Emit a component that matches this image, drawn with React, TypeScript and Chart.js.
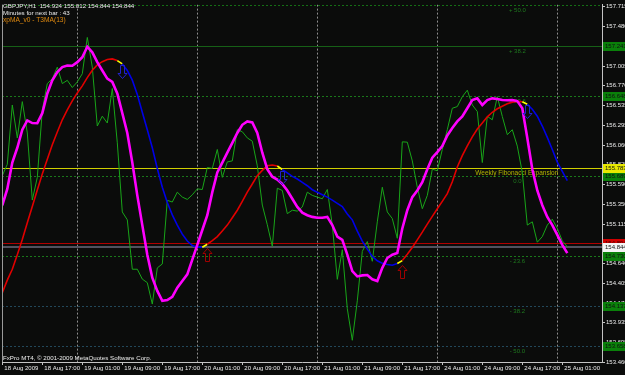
import React, { useEffect, useRef } from "react";
import { Chart, registerables } from "chart.js";

Chart.register(...registerables);

// ---------- texts ----------
const symbolHeader = "GBPJPY,H1  154.924 155.012 154.844 154.844";
const minutesText = "Minutes for next bar : 43";
const indicatorName = "xpMA_v0 - T3MA(13)";
const copyrightText = "FxPro MT4, \u00a9 2001-2009 MetaQuotes Software Corp.";

// ---------- time categories (H1 bars) ----------
const tradingDays = ["18 Aug", "19 Aug", "20 Aug", "21 Aug", "24 Aug", "25 Aug"];
const firstBarHour = 9;
const barCount = 114;
const firstTickLabel = "18 Aug 2009";
const tickEvery = 8;
const slotCount = 120;

const barTimes: string[] = [];
{
  let d = 0;
  let h = firstBarHour;
  while (barTimes.length < barCount) {
    barTimes.push(`${tradingDays[d]} ${String(h).padStart(2, "0")}:00`);
    h++;
    if (h === 24) {
      h = 0;
      d++;
    }
  }
}

// ---------- price axis ----------
const priceMin = 153.465;
const priceMax = 157.741;
const yTickLabels = [
  "153.460", "153.695", "153.935", "154.170", "154.405", "154.640", "154.875",
  "155.115", "155.350", "155.590", "155.825", "156.060", "156.295", "156.535",
  "156.770", "157.005", "157.240", "157.480", "157.715",
];

// ---------- series ----------
const closePrices = [
  155.694, 155.831, 156.540, 156.146, 156.580, 156.205, 155.402, 155.674, 156.481, 156.796,
  156.855, 156.993, 156.796, 156.835, 156.749, 156.816, 156.914, 157.348, 156.993, 156.288,
  156.406, 156.324, 156.737, 156.087, 155.260, 155.166, 154.575, 154.575, 154.457, 154.414,
  154.158, 154.591, 154.638, 155.399, 155.379, 155.497, 155.438, 155.410, 155.465, 155.536,
  155.529, 155.792, 155.780, 156.008, 155.674, 155.859, 155.871, 156.244, 156.220, 156.146,
  156.107, 155.812, 155.343, 155.107, 154.847, 155.544, 155.517, 155.240, 155.281, 155.270,
  155.320, 155.497, 155.458, 155.438, 155.418, 155.529, 155.103, 154.454, 154.808, 154.103,
  153.725, 154.197, 154.788, 154.906, 154.670, 155.142, 155.556, 155.260, 155.181, 154.945,
  156.099, 156.095, 155.871, 155.556, 155.299, 155.458, 155.772, 155.753, 156.008, 156.244,
  156.501, 156.521, 156.639, 156.717, 156.540, 156.462, 155.851, 156.403, 156.363, 156.639,
  156.403, 156.185, 156.244, 156.048, 155.733, 155.103, 155.142, 154.898, 154.965, 155.103,
  155.174, 155.063, 154.914, 154.844,
];

const t3ma = [
  155.340, 155.536, 155.851, 156.028, 156.244, 156.355, 156.324, 156.322, 156.442, 156.678,
  156.835, 156.934, 156.993, 157.012, 157.010, 157.052, 157.111, 157.237, 157.170, 157.052,
  156.953, 156.855, 156.816, 156.678, 156.442, 156.205, 155.851, 155.458, 155.103, 154.749,
  154.473, 154.316, 154.197, 154.206, 154.245, 154.355, 154.434, 154.513, 154.690, 154.867,
  155.044, 155.221, 155.497, 155.733, 155.851, 155.969, 156.087, 156.205, 156.303, 156.344,
  156.332, 156.205, 155.969, 155.772, 155.682, 155.647, 155.595, 155.517, 155.418, 155.320,
  155.252, 155.221, 155.201, 155.190, 155.190, 155.201, 155.103, 154.965, 154.926, 154.749,
  154.552, 154.489, 154.501, 154.505, 154.454, 154.434, 154.591, 154.709, 154.749, 154.768,
  155.063, 155.281, 155.438, 155.517, 155.615, 155.772, 155.910, 155.977, 156.048, 156.176,
  156.264, 156.344, 156.403, 156.501, 156.599, 156.619, 156.540, 156.599, 156.619, 156.611,
  156.599, 156.597, 156.599, 156.587, 156.501, 156.146, 155.772, 155.517, 155.340, 155.201,
  155.103, 154.985, 154.867, 154.768,
];

const xpma = [
  154.295, 154.445, 154.575, 154.749, 154.930, 155.131, 155.325, 155.524, 155.715, 155.890,
  156.064, 156.217, 156.363, 156.481, 156.589, 156.684, 156.769, 156.867, 156.956, 157.020,
  157.058, 157.085, 157.091, 157.071, 157.032, 156.953, 156.837, 156.666, 156.453, 156.244,
  156.028, 155.780, 155.556, 155.373, 155.225, 155.103, 154.995, 154.912, 154.859, 154.839,
  154.838, 154.874, 154.918, 154.965, 155.033, 155.103, 155.190, 155.281, 155.387, 155.497,
  155.595, 155.694, 155.757, 155.812, 155.822, 155.810, 155.768, 155.727, 155.686, 155.654,
  155.615, 155.574, 155.526, 155.497, 155.467, 155.438, 155.402, 155.363, 155.325, 155.237,
  155.166, 155.030, 154.912, 154.815, 154.729, 154.676, 154.646, 154.631, 154.623, 154.643,
  154.678, 154.753, 154.835, 154.926, 155.018, 155.115, 155.207, 155.299, 155.387, 155.479,
  155.621, 155.798, 155.934, 156.052, 156.158, 156.253, 156.324, 156.398, 156.453, 156.495,
  156.524, 156.554, 156.574, 156.583, 156.578, 156.548, 156.489, 156.406, 156.288, 156.152,
  156.008, 155.857, 155.745, 155.635,
];
const xpmaTurnBars = [23, 40, 55, 79, 104];
const upArrowBars = [41, 80];
const downArrowBars = [24, 56, 105];

// ---------- objects ----------
const fibPrices = [157.737, 157.241, 156.648, 155.689, 154.730, 154.137, 153.658];
const fibTexts = ["+ 50.0", "+ 38.2", "+ 23.6", "0.0", "- 23.6", "- 38.2", "- 50.0"];
const fibLabelBar = 103;
const expansionPrice = 155.783;
const expansionText = "Weekly Fibonacci Expansion";
const expansionTextEndBar = 111;
const askPrice = 154.894;
const bidPrice = 154.844;

// ---------- styles ----------
const BG = "#0b0c0b";
const AXIS = "#c4c4c4";
const TEXT = "#ececec";
const FONT = "'Liberation Sans', Arial, sans-serif";
const fibLineColor = ["#146e14", "#166016", "#1a781a", "#1a781a", "#1a781a", "#22485a", "#22485a"];
const fibLineDash = [[2, 2], [], [2, 2], [2, 2], [2, 2], [2, 2], [2, 2]];

function drawArrow(ctx: CanvasRenderingContext2D, x: number, yTop: number, up: boolean, color: string) {
  const w = 9, h = 13, headH = 5, sw = 4;
  const cx = Math.round(x) + 0.5;
  const t = Math.round(yTop) + 0.5;
  ctx.save();
  ctx.strokeStyle = color;
  ctx.lineWidth = 1;
  ctx.beginPath();
  if (up) {
    ctx.moveTo(cx, t);
    ctx.lineTo(cx + w / 2, t + headH);
    ctx.lineTo(cx + sw / 2, t + headH);
    ctx.lineTo(cx + sw / 2, t + h);
    ctx.lineTo(cx - sw / 2, t + h);
    ctx.lineTo(cx - sw / 2, t + headH);
    ctx.lineTo(cx - w / 2, t + headH);
  } else {
    const b = t + h;
    ctx.moveTo(cx, b);
    ctx.lineTo(cx + w / 2, b - headH);
    ctx.lineTo(cx + sw / 2, b - headH);
    ctx.lineTo(cx + sw / 2, t);
    ctx.lineTo(cx - sw / 2, t);
    ctx.lineTo(cx - sw / 2, b - headH);
    ctx.lineTo(cx - w / 2, b - headH);
  }
  ctx.closePath();
  ctx.stroke();
  ctx.restore();
}

const mt4Plugin = {
  id: "mt4",
  beforeDraw(chart: any) {
    const { ctx, width, height } = chart;
    ctx.save();
    ctx.fillStyle = BG;
    ctx.fillRect(0, 0, width, height);
    ctx.restore();
  },
  beforeDatasetsDraw(chart: any) {
    const { ctx, chartArea, scales } = chart;
    const xs = scales.x;
    const ys = scales.y;
    ctx.save();
    ctx.beginPath();
    ctx.rect(chartArea.left, chartArea.top, chartArea.right - chartArea.left, chartArea.bottom - chartArea.top);
    ctx.clip();
    // day separators
    ctx.strokeStyle = "#8e8e8e";
    ctx.lineWidth = 1;
    ctx.setLineDash([2, 2]);
    barTimes.forEach((t, i) => {
      if (t.endsWith(" 00:00")) {
        const x = Math.round(xs.getPixelForValue(i)) + 0.5;
        ctx.beginPath();
        ctx.moveTo(x, chartArea.top);
        ctx.lineTo(x, chartArea.bottom);
        ctx.stroke();
      }
    });
    // fib levels
    fibPrices.forEach((p, k) => {
      const y = Math.round(ys.getPixelForValue(p)) + 0.5;
      ctx.strokeStyle = fibLineColor[k];
      ctx.setLineDash(fibLineDash[k]);
      ctx.beginPath();
      ctx.moveTo(chartArea.left, y);
      ctx.lineTo(chartArea.right, y);
      ctx.stroke();
      ctx.setLineDash([]);
      ctx.fillStyle = "#1f7a1f";
      ctx.font = `6px ${FONT}`;
      ctx.textAlign = "center";
      ctx.textBaseline = "middle";
      ctx.fillText(fibTexts[k], xs.getPixelForValue(fibLabelBar), y + 4.5);
    });
    ctx.setLineDash([]);
    // expansion line
    const ye = Math.round(ys.getPixelForValue(expansionPrice)) + 0.5;
    ctx.strokeStyle = "#d0d000";
    ctx.beginPath();
    ctx.moveTo(chartArea.left, ye);
    ctx.lineTo(chartArea.right, ye);
    ctx.stroke();
    ctx.fillStyle = "#b4b400";
    ctx.font = `6.5px ${FONT}`;
    ctx.textAlign = "right";
    ctx.textBaseline = "middle";
    ctx.fillText(expansionText, xs.getPixelForValue(expansionTextEndBar) + 1, ye + 4.5);
    // ask line
    const ya = Math.round(ys.getPixelForValue(askPrice)) + 0.5;
    ctx.strokeStyle = "#b00000";
    ctx.beginPath();
    ctx.moveTo(chartArea.left, ya);
    ctx.lineTo(chartArea.right, ya);
    ctx.stroke();
    // bid line
    const yb = Math.round(ys.getPixelForValue(bidPrice));
    ctx.strokeStyle = "#52525e";
    ctx.lineWidth = 2;
    ctx.beginPath();
    ctx.moveTo(chartArea.left, yb);
    ctx.lineTo(chartArea.right, yb);
    ctx.stroke();
    ctx.restore();
  },
  afterDatasetsDraw(chart: any) {
    const { ctx, scales } = chart;
    const xs = scales.x;
    const ys = scales.y;
    upArrowBars.forEach((i) => {
      drawArrow(ctx, xs.getPixelForValue(i), ys.getPixelForValue(xpma[i]) + 4, true, "#a00000");
    });
    downArrowBars.forEach((i) => {
      drawArrow(ctx, xs.getPixelForValue(i), ys.getPixelForValue(xpma[i]) + 1, false, "#2222cc");
    });
  },
  afterDraw(chart: any) {
    const { ctx, chartArea, scales, width } = chart;
    const ys = scales.y;
    ctx.save();
    // left frame
    ctx.strokeStyle = "#9a9a9a";
    ctx.lineWidth = 1;
    ctx.beginPath();
    ctx.moveTo(chartArea.left + 0.5, chartArea.top);
    ctx.lineTo(chartArea.left + 0.5, chartArea.bottom);
    ctx.stroke();
    // header texts
    ctx.textAlign = "left";
    ctx.textBaseline = "middle";
    ctx.font = `6.2px ${FONT}`;
    ctx.fillStyle = TEXT;
    ctx.fillText(symbolHeader, 3, 6);
    ctx.fillText(minutesText, 3, 13);
    ctx.fillStyle = "#e08a10";
    ctx.font = `6.6px ${FONT}`;
    ctx.fillText(indicatorName, 3, 20);
    ctx.font = `6.2px ${FONT}`;
    ctx.fillStyle = TEXT;
    ctx.fillText(copyrightText, 3, 358);
    // price boxes
    const boxes: { p: number; bg: string; fg: string }[] = [];
    fibPrices.forEach((p) => boxes.push({ p, bg: "#0a800a", fg: "#101010" }));
    boxes.push({ p: expansionPrice, bg: "#e8e800", fg: "#101010" });
    boxes.push({ p: askPrice, bg: "#d00000", fg: "#400000" });
    boxes.push({ p: bidPrice, bg: "#f4f4f4", fg: "#101010" });
    ctx.font = `6px ${FONT}`;
    boxes.forEach((b) => {
      const y = ys.getPixelForValue(b.p);
      if (y < 5) return;
      const x0 = chartArea.right + 1;
      ctx.fillStyle = b.bg;
      ctx.fillRect(x0, Math.round(y) - 4, width - x0, 9);
      ctx.fillStyle = b.fg;
      ctx.fillText(b.p.toFixed(3), x0 + 2, Math.round(y) + 0.5);
    });
    ctx.restore();
  },
};

export default function App() {
  const ref = useRef<HTMLCanvasElement | null>(null);
  useEffect(() => {
    document.body.style.margin = "0";
    document.body.style.background = BG;
    const canvas = ref.current!;
    const upColor = "#e00000";
    const downColor = "#0000e6";
    const turnColor = "#ffff00";
    const chart = new Chart(canvas, {
      type: "line",
      data: {
        datasets: [
          {
            label: "T3MA(13)",
            data: t3ma.map((v, i) => ({ x: i, y: v })),
            borderColor: "#ff00ff",
            borderWidth: 2.6,
            pointRadius: 0,
            tension: 0,
          },
          {
            label: "xpMA",
            data: xpma.map((v, i) => ({ x: i, y: v })),
            borderColor: upColor,
            borderWidth: 1.6,
            pointRadius: 0,
            tension: 0,
            segment: {
              borderColor: (c: any) => {
                const i = c.p0DataIndex;
                if (xpmaTurnBars.includes(i)) return turnColor;
                let up = true;
                for (const t of xpmaTurnBars) if (i > t) up = !up;
                return up ? upColor : downColor;
              },
            },
          },
          {
            label: "Close",
            data: closePrices.map((v, i) => ({ x: i, y: v })),
            borderColor: "#19a519",
            borderWidth: 1,
            pointRadius: 0,
            tension: 0,
          },
        ],
      },
      options: {
        animation: false,
        responsive: false,
        events: [],
        layout: { padding: { left: 2, top: 0, right: 0, bottom: 0 } },
        plugins: { legend: { display: false }, tooltip: { enabled: false } },
        scales: {
          x: {
            type: "linear",
            min: -0.06,
            max: slotCount - 0.06,
            bounds: "data",
            afterFit: (s: any) => {
              s.height = 13;
            },
            afterBuildTicks: (s: any) => {
              const t: { value: number }[] = [];
              for (let i = 0; i < barCount; i += tickEvery) t.push({ value: i });
              s.ticks = t;
            },
            grid: { drawOnChartArea: false, drawTicks: true, tickLength: 3, color: AXIS },
            border: { display: true, color: AXIS },
            ticks: {
              autoSkip: false,
              maxRotation: 0,
              minRotation: 0,
              align: "start",
              labelOffset: 2,
              padding: 0,
              color: TEXT,
              font: { family: FONT, size: 6 },
              callback: (v: any) => (v === 0 ? firstTickLabel : barTimes[v]),
            },
          },
          y: {
            type: "linear",
            position: "right",
            min: priceMin,
            max: priceMax,
            bounds: "data",
            afterFit: (s: any) => {
              s.width = 23;
            },
            afterBuildTicks: (s: any) => {
              s.ticks = yTickLabels.map((l) => ({ value: parseFloat(l) }));
            },
            grid: { drawOnChartArea: false, drawTicks: true, tickLength: 3, color: AXIS },
            border: { display: true, color: AXIS },
            ticks: {
              autoSkip: false,
              padding: 1,
              color: TEXT,
              font: { family: FONT, size: 6 },
              callback: (v: any) => {
                const idx = yTickLabels.findIndex((l) => Math.abs(parseFloat(l) - v) < 1e-6);
                return idx >= 0 ? yTickLabels[idx] : "";
              },
            },
          },
        },
      },
      plugins: [mt4Plugin],
    } as any);
    return () => chart.destroy();
  }, []);
  return (
    <div style={{ position: "fixed", left: 0, top: 0, width: 625, height: 375, background: BG }}>
      <canvas ref={ref} width={625} height={375} style={{ width: 625, height: 375, display: "block" }} />
    </div>
  );
}
